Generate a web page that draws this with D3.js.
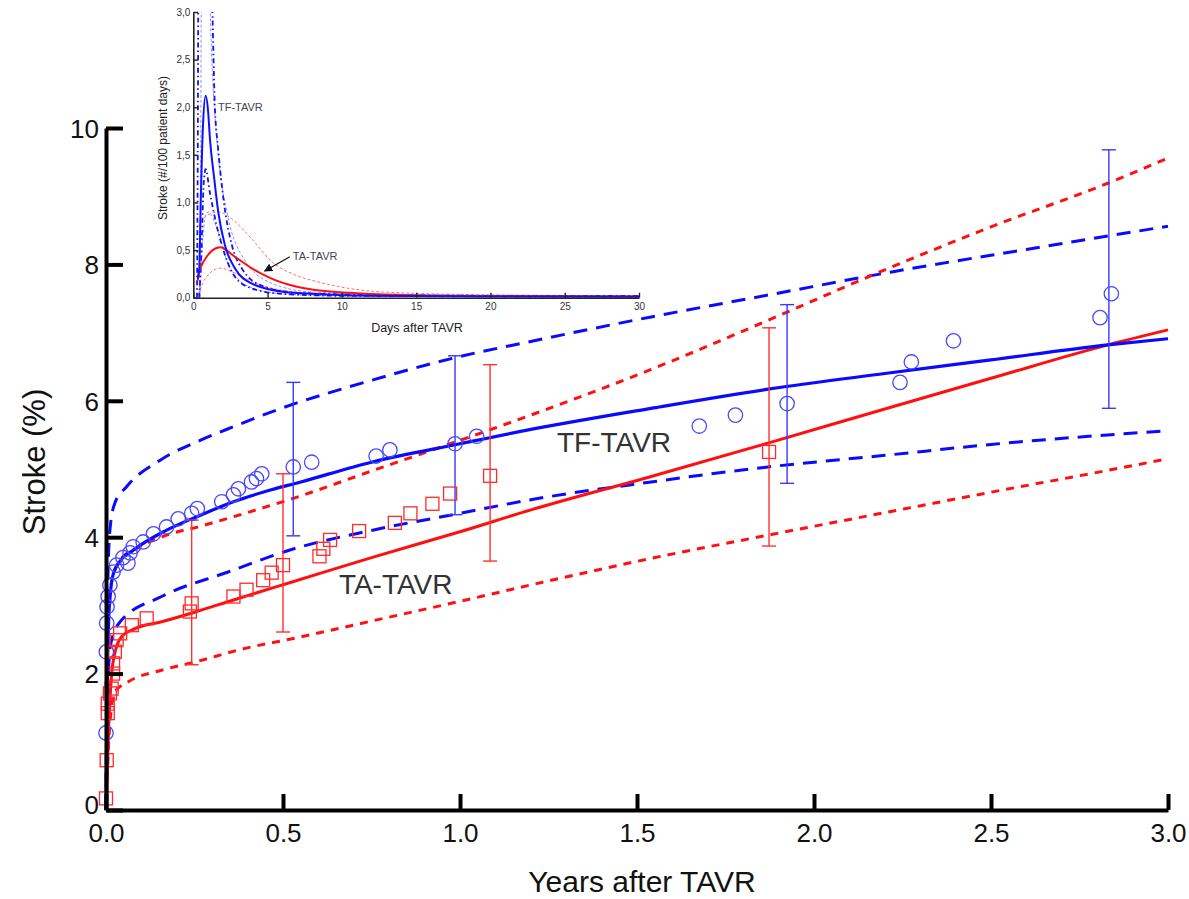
<!DOCTYPE html>
<html>
<head>
<meta charset="utf-8">
<script src="https://cdn.jsdelivr.net/npm/d3@7/dist/d3.min.js"></script>
<style>
  body { margin: 0; background: #fff; }
  svg { display: block; font-family: "Liberation Sans", Arial, Helvetica, sans-serif; }
</style>
</head>
<body>
<div id="chart"></div>
<script>
/*
 * Cumulative stroke after TAVR, TF vs TA access, with an inset of the hazard
 */

// ---- main panel (years after TAVR, stroke %) ----
// TF-TAVR fitted curve and its confidence band
const tfFitT = [0, 0.001, 0.002, 0.004, 0.007, 0.012, 0.02, 0.04, 0.077, 0.17, 0.27, 0.36, 0.45, 0.55, 0.75, 1.0, 1.2, 1.54, 1.87, 2.2, 2.5, 2.83, 3.0];
const tfFitV = [0, 0.5, 1.1, 2.0, 2.7, 3.15, 3.45, 3.65, 3.81, 4.1, 4.33, 4.52, 4.67, 4.81, 5.1, 5.37, 5.58, 5.89, 6.17, 6.4, 6.6, 6.82, 6.91];
const tfHiT = [0, 0.002, 0.005, 0.011, 0.025, 0.058, 0.153, 0.266, 0.36, 0.49, 0.75, 1.0, 1.2, 1.54, 1.87, 2.22, 2.6, 3.0];
const tfHiV = [0, 1.8, 3.3, 4.1, 4.5, 4.74, 5.13, 5.42, 5.62, 5.88, 6.3, 6.65, 6.87, 7.23, 7.55, 7.89, 8.22, 8.56];
const tfLoT = [0, 0.004, 0.012, 0.04, 0.157, 0.345, 0.524, 0.75, 1.0, 1.2, 1.54, 1.87, 2.2, 2.5, 2.83, 3.0];
const tfLoV = [0, 1.5, 2.4, 2.76, 3.13, 3.49, 3.82, 4.1, 4.35, 4.55, 4.81, 5.03, 5.2, 5.36, 5.5, 5.56];

// TA-TAVR fitted curve and its confidence band
const taFitT = [0, 0.002, 0.004, 0.007, 0.011, 0.016, 0.025, 0.044, 0.082, 0.157, 0.25, 0.36, 0.53, 0.75, 1.0, 1.2, 1.54, 1.87, 2.2, 2.5, 2.83, 3.0];
const taFitV = [0, 0.15, 0.6, 1.12, 1.6, 2.0, 2.3, 2.54, 2.66, 2.76, 2.9, 3.08, 3.35, 3.7, 4.08, 4.4, 4.89, 5.38, 5.88, 6.33, 6.82, 7.04];
const taHiT = [0, 0.004, 0.01, 0.04, 0.096, 0.171, 0.266, 0.379, 0.529, 0.75, 1.0, 1.2, 1.54, 1.87, 2.2, 2.5, 2.83, 3.0];
const taHiV = [0, 2.3, 3.18, 3.67, 3.86, 4.03, 4.16, 4.33, 4.57, 4.97, 5.42, 5.79, 6.46, 7.18, 7.92, 8.55, 9.19, 9.56];
const taLoT = [0, 0.01, 0.025, 0.063, 0.157, 0.251, 0.393, 0.534, 0.75, 1.0, 1.2, 1.54, 1.87, 2.2, 2.5, 2.83, 3.0];
const taLoV = [0, 1.2, 1.73, 1.88, 2.05, 2.17, 2.37, 2.52, 2.77, 3.06, 3.3, 3.69, 4.03, 4.36, 4.66, 4.98, 5.15];

// observed events (circles = TF, squares = TA)
const tfObsT = [0.0, 0.001, 0.002, 0.003, 0.006, 0.011, 0.02, 0.03, 0.048, 0.062, 0.068, 0.077, 0.105, 0.134, 0.171, 0.204, 0.242, 0.258, 0.327, 0.36, 0.374, 0.411, 0.425, 0.44, 0.529, 0.581, 0.763, 0.802, 0.986, 1.047, 1.676, 1.778, 1.924, 2.243, 2.275, 2.394, 2.808, 2.84];
const tfObsV = [1.13, 2.32, 2.74, 2.98, 3.13, 3.3, 3.49, 3.59, 3.7, 3.62, 3.77, 3.86, 3.93, 4.05, 4.15, 4.27, 4.35, 4.42, 4.52, 4.62, 4.71, 4.81, 4.86, 4.93, 5.03, 5.1, 5.19, 5.28, 5.37, 5.48, 5.63, 5.79, 5.96, 6.27, 6.57, 6.88, 7.22, 7.57];
const taObsT = [0.0, 0.002, 0.005, 0.005, 0.011, 0.016, 0.02, 0.02, 0.025, 0.03, 0.04, 0.073, 0.115, 0.237, 0.242, 0.36, 0.397, 0.444, 0.468, 0.5, 0.603, 0.614, 0.633, 0.715, 0.816, 0.86, 0.922, 0.972, 1.085, 1.873];
const taObsV = [0.17, 0.73, 1.42, 1.56, 1.71, 1.78, 2.0, 2.15, 2.32, 2.49, 2.59, 2.71, 2.81, 2.91, 3.03, 3.13, 3.23, 3.37, 3.48, 3.59, 3.72, 3.83, 3.96, 4.09, 4.21, 4.35, 4.49, 4.64, 4.9, 5.25];

// Kaplan-Meier confidence limits
const tfBarT = [0.529, 0.986, 1.924, 2.833];
const tfBarLo = [4.02, 4.33, 4.79, 5.89];
const tfBarHi = [6.27, 6.66, 7.41, 9.68];
const taBarT = [0.242, 0.5, 1.085, 1.873];
const taBarLo = [2.13, 2.61, 3.65, 3.87];
const taBarHi = [4.25, 4.93, 6.53, 7.07];

const yearTicks = [0, 0.5, 1.0, 1.5, 2.0, 2.5, 3.0];
const pctTicks = [0, 2, 4, 6, 8, 10];

// ---- inset (days after TAVR, stroke per 100 patient days) ----
const tfRateT = [0.3, 0.4, 0.5, 0.65, 0.83, 1.0, 1.12, 1.41, 1.68, 2.13, 2.8, 3.92, 6.16, 8.2, 12, 20, 30];
const tfRateV = [0.2, 0.3, 1.0, 1.8, 2.12, 1.95, 1.67, 1.25, 0.9, 0.55, 0.31, 0.15, 0.06, 0.04, 0.02, 0.012, 0.01];
const tfRateHiT = [0.25, 0.3, 0.35, 1.2, 1.46, 1.68, 2.06, 2.6, 3.3, 4.7, 7, 12, 20, 30];
const tfRateHiV = [0, 1.5, 3.6, 3.3, 1.97, 1.55, 1.0, 0.55, 0.3, 0.12, 0.05, 0.03, 0.02, 0.02];
const tfRateLoT = [0.4, 0.55, 0.7, 0.83, 1.12, 1.57, 2.13, 2.8, 3.9, 6, 10, 30];
const tfRateLoV = [0, 0.5, 1.2, 1.35, 1.1, 0.76, 0.45, 0.22, 0.1, 0.04, 0.02, 0.01];
const tfRateHi2T = [0.4, 0.5, 0.55, 1.0, 1.3, 1.68, 2.35, 3.35, 5.3, 8, 15, 30];
const tfRateHi2V = [0, 1.5, 3.5, 3.4, 2.3, 1.5, 0.84, 0.42, 0.15, 0.06, 0.03, 0.02];
const tfRateLo2T = [0.45, 0.6, 0.8, 1.0, 1.68, 2.35, 3.0, 4.0, 6, 10, 30];
const tfRateLo2V = [0, 0.5, 0.85, 0.9, 0.69, 0.35, 0.2, 0.1, 0.04, 0.02, 0.01];

const taRateT = [0.3, 0.34, 0.56, 0.9, 1.23, 1.8, 2.8, 3.92, 5.27, 6.84, 8.2, 12, 20, 30];
const taRateV = [0.18, 0.24, 0.34, 0.43, 0.49, 0.53, 0.43, 0.31, 0.2, 0.12, 0.08, 0.04, 0.015, 0.01];
const taRateHiT = [0.34, 0.8, 1.68, 2.8, 3.92, 5.27, 6.84, 8.3, 12.8, 20, 30];
const taRateHiV = [0.75, 0.85, 0.9, 0.8, 0.62, 0.38, 0.24, 0.17, 0.06, 0.03, 0.02];
const taRateLoT = [0.34, 0.8, 1.8, 2.8, 3.92, 5.27, 6.84, 10, 20, 30];
const taRateLoV = [0.03, 0.2, 0.31, 0.26, 0.17, 0.1, 0.06, 0.03, 0.01, 0.005];

const dayTicks = [0, 5, 10, 15, 20, 25, 30];
const rateTicks = [0, 0.5, 1.0, 1.5, 2.0, 2.5, 3.0];

const zip = (a, b) => a.map((d, i) => [d, b[i]]);

const W = 1189, H = 899;
const svg = d3.select("#chart").append("svg")
    .attr("width", W)
    .attr("height", H);

/*
 * Main panel
 */
const x = d3.scaleLinear().domain([0, 3]).range([106, 1168]);
const y = d3.scaleLinear().domain([0, 10]).range([810, 128]);

const line = d3.line()
    .x(d => x(d[0]))
    .y(d => y(d[1]))
    .curve(d3.curveMonotoneX);

const BLUE = "#0a0aff", RED = "#ff1010";

// confidence bands first, fits on top
const bands = [
    {t: tfHiT, v: tfHiV, c: BLUE, dash: "14,9"},
    {t: tfLoT, v: tfLoV, c: BLUE, dash: "14,9"},
    {t: taHiT, v: taHiV, c: RED, dash: "8,7"},
    {t: taLoT, v: taLoV, c: RED, dash: "8,7"}
];
svg.append("g").selectAll("path")
    .data(bands)
    .enter().append("path")
    .attr("d", d => line(zip(d.t, d.v)))
    .attr("fill", "none")
    .attr("stroke", d => d.c)
    .attr("stroke-width", 3)
    .attr("stroke-dasharray", d => d.dash);

svg.append("path")
    .attr("d", line(zip(taFitT, taFitV)))
    .attr("fill", "none").attr("stroke", RED).attr("stroke-width", 3);
svg.append("path")
    .attr("d", line(zip(tfFitT, tfFitV)))
    .attr("fill", "none").attr("stroke", BLUE).attr("stroke-width", 3.2);

// error bars
function errorBars(ts, los, his, color) {
    let g = svg.append("g")
        .attr("stroke", color)
        .attr("stroke-width", 1.4)
        .attr("fill", "none");
    ts.forEach((t, i) => {
        g.append("line").attr("x1", x(t)).attr("x2", x(t)).attr("y1", y(los[i])).attr("y2", y(his[i]));
        g.append("line").attr("x1", x(t) - 7).attr("x2", x(t) + 7).attr("y1", y(los[i])).attr("y2", y(los[i]));
        g.append("line").attr("x1", x(t) - 7).attr("x2", x(t) + 7).attr("y1", y(his[i])).attr("y2", y(his[i]));
    });
}
errorBars(taBarT, taBarLo, taBarHi, "#ff3030");
errorBars(tfBarT, tfBarLo, tfBarHi, "#3838ff");

// observed points
svg.append("g").selectAll("circle")
    .data(zip(tfObsT, tfObsV))
    .enter().append("circle")
    .attr("cx", d => x(d[0]))
    .attr("cy", d => y(d[1]))
    .attr("r", 7.2)
    .attr("fill", "none")
    .attr("stroke", "#4848ff")
    .attr("stroke-width", 1.3);

svg.append("g").selectAll("rect")
    .data(zip(taObsT, taObsV))
    .enter().append("rect")
    .attr("x", d => x(d[0]) - 6.5)
    .attr("y", d => y(d[1]) - 6.5)
    .attr("width", 13)
    .attr("height", 13)
    .attr("fill", "none")
    .attr("stroke", "#ff2a2a")
    .attr("stroke-width", 1.3);

// axes
let xAxis = svg.append("g")
    .attr("transform", "translate(0," + y(0) + ")")
    .call(d3.axisBottom(x).tickValues(yearTicks).tickFormat(d3.format(".1f"))
        .tickSizeInner(-16).tickSizeOuter(0).tickPadding(14));
let yAxis = svg.append("g")
    .attr("transform", "translate(" + x(0) + ",0)")
    .call(d3.axisLeft(y).tickValues(pctTicks).tickFormat(d3.format("d"))
        .tickSizeInner(-17).tickSizeOuter(0).tickPadding(7));

[xAxis, yAxis].forEach(a => {
    a.select(".domain").attr("stroke", "#000").attr("stroke-width", 4);
    a.selectAll(".tick line").attr("stroke", "#000").attr("stroke-width", 4);
    a.selectAll(".tick text")
        .attr("fill", "#111")
        .style("font-size", "26px")
        .style("font-family", "'Liberation Sans', Arial, sans-serif");
});
yAxis.selectAll(".tick text").attr("dy", d => d === 0 ? "0.12em" : "0.36em");

svg.append("text")
    .attr("transform", "translate(45," + 462 + ") rotate(-90)")
    .attr("text-anchor", "middle")
    .style("font-size", "31px")
    .attr("fill", "#111")
    .text("Stroke (%)");

svg.append("text")
    .attr("x", 642)
    .attr("y", 892)
    .attr("text-anchor", "middle")
    .style("font-size", "30px")
    .attr("fill", "#111")
    .text("Years after TAVR");

// curve labels
svg.append("text")
    .attr("x", x(1.274)).attr("y", y(5.25))
    .style("font-size", "28px").attr("fill", "#333")
    .text("TF-TAVR");
svg.append("text")
    .attr("x", x(0.658)).attr("y", y(3.17))
    .style("font-size", "28px").attr("fill", "#333")
    .text("TA-TAVR");

/*
 * Inset: hazard in the first 30 days
 */
const ix = d3.scaleLinear().domain([0, 30]).range([193.3, 639]);
const iy = d3.scaleLinear().domain([0, 3]).range([297.7, 12]);

svg.append("clipPath").attr("id", "inset-clip")
    .append("rect")
    .attr("x", ix(0)).attr("y", iy(3))
    .attr("width", ix(30) - ix(0) + 2)
    .attr("height", iy(0) - iy(3));

const iline = d3.line()
    .x(d => ix(d[0]))
    .y(d => iy(d[1]))
    .curve(d3.curveMonotoneX);

const insetLines = [
    {t: taRateHiT, v: taRateHiV, c: "#ff7070", w: 1, dash: "3,2"},
    {t: taRateLoT, v: taRateLoV, c: "#ff7070", w: 1, dash: "3,2"},
    {t: tfRateHi2T, v: tfRateHi2V, c: "#9090ff", w: 1, dash: "3,2"},
    {t: tfRateLo2T, v: tfRateLo2V, c: "#9090ff", w: 1, dash: "3,2"},
    {t: tfRateHiT, v: tfRateHiV, c: "#1010ff", w: 1.8, dash: "5,3,1.5,3"},
    {t: tfRateLoT, v: tfRateLoV, c: "#1010ff", w: 1.8, dash: "5,3,1.5,3"},
    {t: taRateT, v: taRateV, c: "#ff1010", w: 2, dash: null},
    {t: tfRateT, v: tfRateV, c: "#1010ff", w: 2, dash: null}
];
svg.append("g")
    .attr("clip-path", "url(#inset-clip)")
    .selectAll("path")
    .data(insetLines)
    .enter().append("path")
    .attr("d", d => iline(zip(d.t, d.v)))
    .attr("fill", "none")
    .attr("stroke", d => d.c)
    .attr("stroke-width", d => d.w)
    .attr("stroke-dasharray", d => d.dash);

let ixAxis = svg.append("g")
    .attr("transform", "translate(0," + iy(0) + ")")
    .call(d3.axisBottom(ix).tickValues(dayTicks).tickSizeInner(-5).tickSizeOuter(0).tickPadding(5));
let iyAxis = svg.append("g")
    .attr("transform", "translate(" + ix(0) + ",0)")
    .call(d3.axisLeft(iy).tickValues(rateTicks).tickFormat(d => d3.format(".1f")(d).replace(".", ","))
        .tickSizeInner(-5).tickSizeOuter(0).tickPadding(3));

[ixAxis, iyAxis].forEach(a => {
    a.select(".domain").attr("stroke", "#222").attr("stroke-width", 1.6);
    a.selectAll(".tick line").attr("stroke", "#222").attr("stroke-width", 1.4);
    a.selectAll(".tick text")
        .attr("fill", "#333")
        .style("font-size", "10px");
});

svg.append("text")
    .attr("transform", "translate(167,148) rotate(-90)")
    .attr("text-anchor", "middle")
    .style("font-size", "12px")
    .attr("fill", "#222")
    .text("Stroke (#/100 patient days)");

svg.append("text")
    .attr("x", 417).attr("y", 332)
    .attr("text-anchor", "middle")
    .style("font-size", "12.5px")
    .attr("fill", "#222")
    .text("Days after TAVR");

svg.append("text")
    .attr("x", ix(1.66)).attr("y", iy(1.96))
    .style("font-size", "11px").attr("fill", "#445")
    .text("TF-TAVR");
svg.append("text")
    .attr("x", ix(6.7)).attr("y", iy(0.4))
    .style("font-size", "11px").attr("fill", "#445")
    .text("TA-TAVR");

// arrow to the TA hazard curve
svg.append("defs").append("marker")
    .attr("id", "arrow")
    .attr("viewBox", "0 0 10 10")
    .attr("refX", 9).attr("refY", 5)
    .attr("markerWidth", 7).attr("markerHeight", 7)
    .attr("orient", "auto")
    .append("path")
    .attr("d", "M0,0L10,5L0,10z")
    .attr("fill", "#111");
svg.append("line")
    .attr("x1", ix(6.5)).attr("y1", iy(0.43))
    .attr("x2", ix(4.8)).attr("y2", iy(0.28))
    .attr("stroke", "#111")
    .attr("stroke-width", 1.2)
    .attr("marker-end", "url(#arrow)");
</script>
</body>
</html>
